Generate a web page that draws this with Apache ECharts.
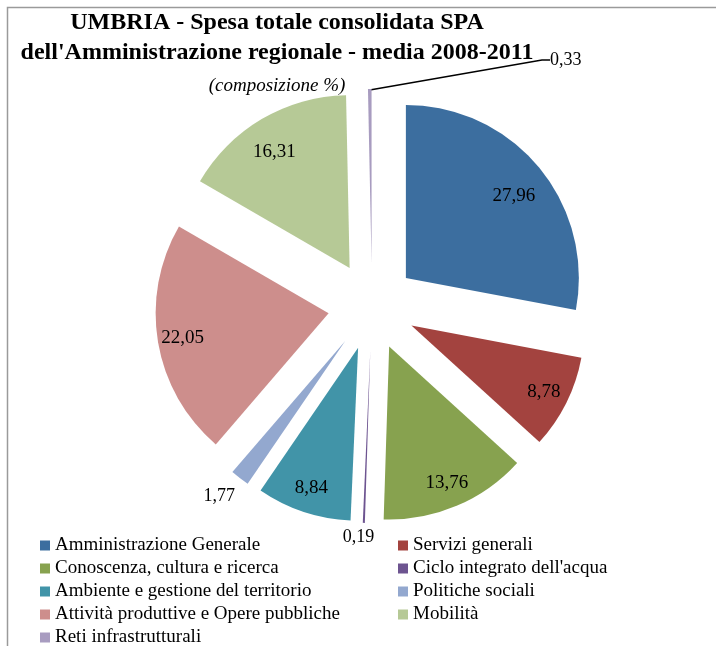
<!DOCTYPE html>
<html>
<head>
<meta charset="utf-8">
<script src="https://cdn.jsdelivr.net/npm/echarts@6/dist/echarts.min.js"></script>
<style>
  html, body { margin: 0; padding: 0; background: #fff; }
  #echarts1 { width: 716px; height: 646px; }
</style>
</head>
<body>
<div id="echarts1"></div>
<script>
// dati
var categorie = ['Amministrazione Generale', 'Servizi generali', 'Conoscenza, cultura e ricerca',
    "Ciclo integrato dell'acqua", 'Ambiente e gestione del territorio', 'Politiche sociali',
    'Attività produttive e Opere pubbliche', 'Mobilità', 'Reti infrastrutturali'];
var quote = [27.96, 8.78, 13.76, 0.19, 8.84, 1.77, 22.05, 16.31, 0.33];
var colori = ['#3c6e9f', '#a3433f', '#87a24f', '#6d5490', '#4194a8', '#93a8cf', '#cd8e8c', '#b6c996', '#a89cc0'];

var serif = 'Liberation Serif';
function virgola(v) { return v.toFixed(2).replace('.', ','); }

var centro = [372, 306];

// legenda su due colonne, in ordine di riga come nell'originale
var colonnaSx = categorie.filter(function (n, i) { return i % 2 === 0; });
var colonnaDx = categorie.filter(function (n, i) { return i % 2 === 1; });

if (document.getElementById("echarts1")) {
    var myChart1 = echarts.init(document.getElementById("echarts1"));
    window.addEventListener('resize', function () { myChart1.resize(); }, false);

    // fette esplose
    var fette = categorie.map(function (n, i) {
        return { name: n, value: quote[i], selected: true, itemStyle: { color: colori[i] } };
    });
    // etichette interne (serie trasparente, raggio doppio)
    var interne = categorie.map(function (n, i) {
        return { name: n, value: quote[i], selected: true, label: { show: quote[i] >= 2 } };
    });
    // etichette esterne per le fette piccole
    var esterne = categorie.map(function (n, i) {
        return {
            name: n, value: quote[i],
            label: { show: quote[i] < 2 },
            labelLine: { show: i === 8 }
        };
    });

    var legenda = {
        top: 536, height: 120, padding: 0, orient: 'vertical',
        icon: 'rect', itemWidth: 10, itemHeight: 10, itemGap: 4,
        selectedMode: false,
        textStyle: { fontFamily: serif, fontSize: 19, color: '#000' }
    };

    var option1 = {
        animation: false,
        title: {
            left: 272, top: 3, textAlign: 'center',
            text: "UMBRIA - Spesa totale consolidata SPA\ndell'Amministrazione regionale - media 2008-2011",
            textStyle: { fontFamily: serif, fontWeight: 'bold', fontSize: 24, lineHeight: 30, color: '#000' },
            subtext: '(composizione %)',
            subtextStyle: { fontFamily: serif, fontStyle: 'italic', fontSize: 19, lineHeight: 20, color: '#000' },
            itemGap: 8
        },
        legend: [
            Object.assign({ left: 40, data: colonnaSx }, legenda),
            Object.assign({ left: 398, data: colonnaDx }, legenda)
        ],
        graphic: [{
            type: 'polyline', silent: true,
            shape: { points: [[7.5, 646], [7.5, 7.5], [716, 7.5]] },
            style: { stroke: '#9a9a9a', lineWidth: 1.5, fill: null }
        }],
        series: [
            {
                type: 'pie',
                name: 'Composizione',
                center: centro,
                radius: [0, 173],
                selectedMode: 'multiple',
                selectedOffset: 44,
                silent: true,
                label: { show: false },
                labelLine: { show: false },
                data: fette
            },
            {
                type: 'pie',
                name: 'Etichette',
                center: centro,
                radius: [0, 290],
                selectedMode: 'multiple',
                selectedOffset: 44,
                silent: true,
                itemStyle: { color: 'rgba(0,0,0,0)' },
                label: {
                    position: 'inner',
                    fontFamily: serif, fontSize: 19, color: '#000',
                    formatter: function (p) { return virgola(p.value); }
                },
                labelLine: { show: false },
                labelLayout: function (p) {
                    if (p.dataIndex === 0) return { dx: -6, dy: 13 };
                    if (p.dataIndex === 7) return { dy: 11 };
                },
                data: interne
            },
            {
                type: 'pie',
                name: 'Esterne',
                center: centro,
                radius: [0, 216],
                silent: true,
                avoidLabelOverlap: false,
                itemStyle: { color: 'rgba(0,0,0,0)' },
                label: {
                    position: 'outside',
                    fontFamily: serif, fontSize: 18, color: '#000',
                    formatter: function (p) { return virgola(p.value); }
                },
                labelLine: { length: 14, length2: 8, lineStyle: { color: '#000', width: 1.5 } },
                labelLayout: function (p) {
                    if (p.dataIndex === 8) return { x: 550, y: 60, align: 'left', verticalAlign: 'middle' };
                    if (p.dataIndex === 3) return { dx: 24, dy: 1 };
                    if (p.dataIndex === 5) return { dx: 16, dy: 8 };
                },
                data: esterne
            }
        ]
    };
    myChart1.setOption(option1);
}
</script>
</body>
</html>
